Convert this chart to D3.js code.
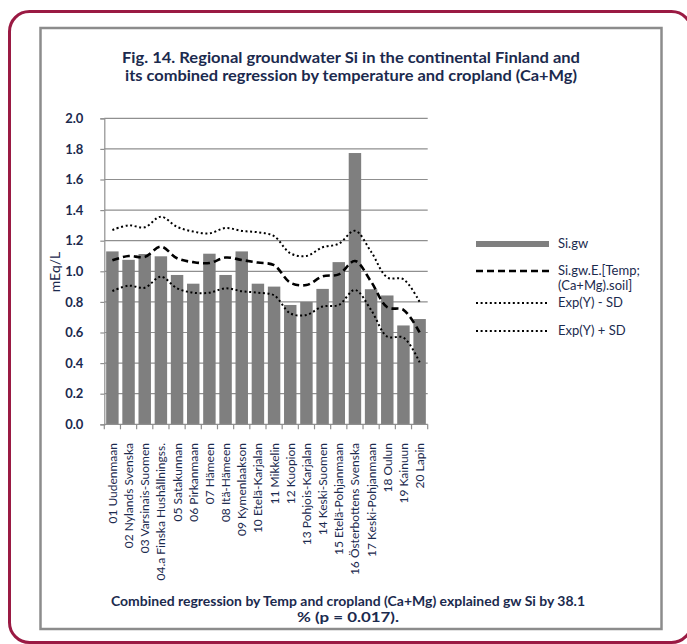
<!DOCTYPE html>
<html><head><meta charset="utf-8">
<script src="https://cdn.jsdelivr.net/npm/d3@7"></script>
<style>
html,body{margin:0;padding:0;background:#fff;}
svg{display:block;}
text{font-family:Lato,"Open Sans",sans-serif;fill:#1b2a4e;}
</style></head>
<body>
<svg id="chart" width="687" height="644"></svg>
<script>
const categories = ["01 Uudenmaan","02 Nylands Svenska","03 Varsinais-Suomen","04.a Finska Hushållningss.","05 Satakunnan","06 Pirkanmaan","07 Hämeen","08 Itä-Hämeen","09 Kymenlaakson","10 Etelä-Karjalan","11 Mikkelin","12 Kuopion","13 Pohjois-Karjalan","14 Keski-Suomen","15 Etelä-Pohjanmaan","16 Österbottens Svenska","17 Keski-Pohjanmaan","18 Oulun","19 Kainuun","20 Lapin"];
const siGw = [1.13,1.075,1.113,1.098,0.976,0.919,1.115,0.976,1.13,0.919,0.90,0.78,0.80,0.885,1.06,1.773,0.883,0.842,0.646,0.688];
const siGwE = [1.072,1.10,1.094,1.161,1.085,1.06,1.054,1.09,1.074,1.057,1.04,0.926,0.91,0.967,0.98,1.067,0.932,0.765,0.748,0.60];
const expMinusSD = [0.871,0.906,0.893,0.965,0.889,0.86,0.86,0.889,0.87,0.86,0.843,0.725,0.715,0.77,0.78,0.878,0.747,0.573,0.567,0.405];
const expPlusSD = [1.27,1.30,1.288,1.357,1.29,1.26,1.248,1.283,1.264,1.255,1.23,1.118,1.10,1.157,1.18,1.265,1.128,0.96,0.948,0.80];
const yTicks = [0,0.2,0.4,0.6,0.8,1.0,1.2,1.4,1.6,1.8,2.0];
const titleLines = ["Fig. 14. Regional groundwater Si in the continental Finland and","its combined regression by temperature and cropland (Ca+Mg)"];
const footLines = ["Combined regression by Temp and cropland (Ca+Mg) explained gw Si by 38.1","%  (p = 0.017)."];
const legendItems = [
  {key:"bar", lines:["Si.gw"]},
  {key:"dash", lines:["Si.gw.E.[Temp;","(Ca+Mg).soil]"]},
  {key:"dot", lines:["Exp(Y) - SD"]},
  {key:"dot", lines:["Exp(Y) + SD"]}
];

const svg = d3.select("#chart");
// outer rounded border
svg.append("rect").attr("x",9.5).attr("y",11.5).attr("width",682).attr("height",631)
  .attr("rx",20).attr("fill","none").attr("stroke","#9a1a43").attr("stroke-width",3);
// inner frame
svg.append("rect").attr("x",40.5).attr("y",28).attr("width",621).attr("height",601)
  .attr("fill","#fff").attr("stroke","#8c8c8c").attr("stroke-width",2.5);

// title
const titleW = [458, 452];
svg.append("g").selectAll("text").data(titleLines).join("text")
  .attr("x",351).attr("y",(d,i)=>63+i*18).attr("text-anchor","middle")
  .attr("font-size",15).attr("font-weight","bold")
  .attr("textLength",(d,i)=>titleW[i]).attr("lengthAdjust","spacingAndGlyphs").text(d=>d);

const m = {left:104.3, right:427.7, top:118.3, bottom:424.3};
const x = d3.scaleBand().domain(categories).range([m.left,m.right]).paddingInner(0.23).paddingOuter(0.115);
const y = d3.scaleLinear().domain([0,2]).range([m.bottom,m.top]);

// gridlines
svg.append("g").selectAll("line").data(yTicks.slice(1)).join("line")
  .attr("x1",m.left).attr("x2",m.right).attr("y1",d=>y(d)).attr("y2",d=>y(d))
  .attr("stroke","#8f8f8f").attr("stroke-width",1.2);

// bars
svg.append("g").selectAll("rect").data(siGw).join("rect")
  .attr("x",(d,i)=>x(categories[i])).attr("width",x.bandwidth())
  .attr("y",d=>y(d)).attr("height",d=>y(0)-y(d)).attr("fill","#7f7f7f");

// y axis
const yAxis = svg.append("g").attr("transform",`translate(${m.left},0)`)
  .call(d3.axisLeft(y).tickValues(yTicks).tickFormat(d3.format(".1f")).tickSize(4).tickPadding(17));
yAxis.select(".domain").attr("stroke","#8f8f8f").attr("stroke-width",1.2);
yAxis.selectAll(".tick line").attr("stroke","#8f8f8f").attr("stroke-width",1.2);
yAxis.selectAll("text").attr("font-size",13).attr("font-weight","bold").attr("fill","#1b2a4e")
  .style("font-family","Lato,sans-serif");

// x axis with boundary ticks
const xg = svg.append("g");
xg.append("line").attr("x1",m.left).attr("x2",m.right).attr("y1",m.bottom).attr("y2",m.bottom)
  .attr("stroke","#8f8f8f").attr("stroke-width",1.2);
const bounds = d3.range(categories.length+1).map(i=>m.left + (m.right-m.left)*i/categories.length);
xg.selectAll("line.tk").data(bounds).join("line").attr("class","tk")
  .attr("x1",d=>d).attr("x2",d=>d).attr("y1",m.bottom).attr("y2",m.bottom+5)
  .attr("stroke","#8f8f8f").attr("stroke-width",1.2);
xg.selectAll("text").data(categories).join("text")
  .attr("transform",d=>`translate(${x(d)+x.bandwidth()/2+4.5},443) rotate(-90)`)
  .attr("text-anchor","end").attr("font-size",12).text(d=>d);

// y label
svg.append("text").attr("transform","translate(60,272) rotate(-90)").attr("text-anchor","middle")
  .attr("font-size",14).text("mEq/L");

// lines
const cx = (d,i)=>x(categories[i])+x.bandwidth()/2;
const line = d3.line().x(cx).y(d=>y(d)).curve(d3.curveCatmullRom.alpha(0.5));
svg.append("path").attr("d",line(expPlusSD)).attr("fill","none").attr("stroke","#000")
  .attr("stroke-width",2).attr("stroke-dasharray","2,2.6");
svg.append("path").attr("d",line(expMinusSD)).attr("fill","none").attr("stroke","#000")
  .attr("stroke-width",2).attr("stroke-dasharray","2,2.6");
svg.append("path").attr("d",line(siGwE)).attr("fill","none").attr("stroke","#000")
  .attr("stroke-width",2.6).attr("stroke-dasharray","7,4");

// legend
const lg = svg.append("g");
const legY = [244, 271, 303, 331];
legendItems.forEach((it,i)=>{
  const yy = legY[i];
  if(it.key==="bar"){
    lg.append("rect").attr("x",476).attr("y",yy-3).attr("width",73).attr("height",6).attr("fill","#7f7f7f");
  } else if(it.key==="dash"){
    lg.append("line").attr("x1",476).attr("x2",549).attr("y1",yy).attr("y2",yy)
      .attr("stroke","#000").attr("stroke-width",2.6).attr("stroke-dasharray","7,4");
  } else {
    lg.append("line").attr("x1",476).attr("x2",549).attr("y1",yy).attr("y2",yy)
      .attr("stroke","#000").attr("stroke-width",2).attr("stroke-dasharray","2,2.6");
  }
  it.lines.forEach((t,j)=>{
    lg.append("text").attr("x",558).attr("y",yy+4+j*15).attr("font-size",13).text(t);
  });
});

// footnote
const footW = [474, 102];
svg.append("g").selectAll("text").data(footLines).join("text")
  .attr("x",348).attr("y",(d,i)=>606+i*16).attr("text-anchor","middle")
  .attr("font-size",13).attr("font-weight","bold")
  .attr("textLength",(d,i)=>footW[i]).attr("lengthAdjust","spacingAndGlyphs").text(d=>d);
</script>
</body></html>
